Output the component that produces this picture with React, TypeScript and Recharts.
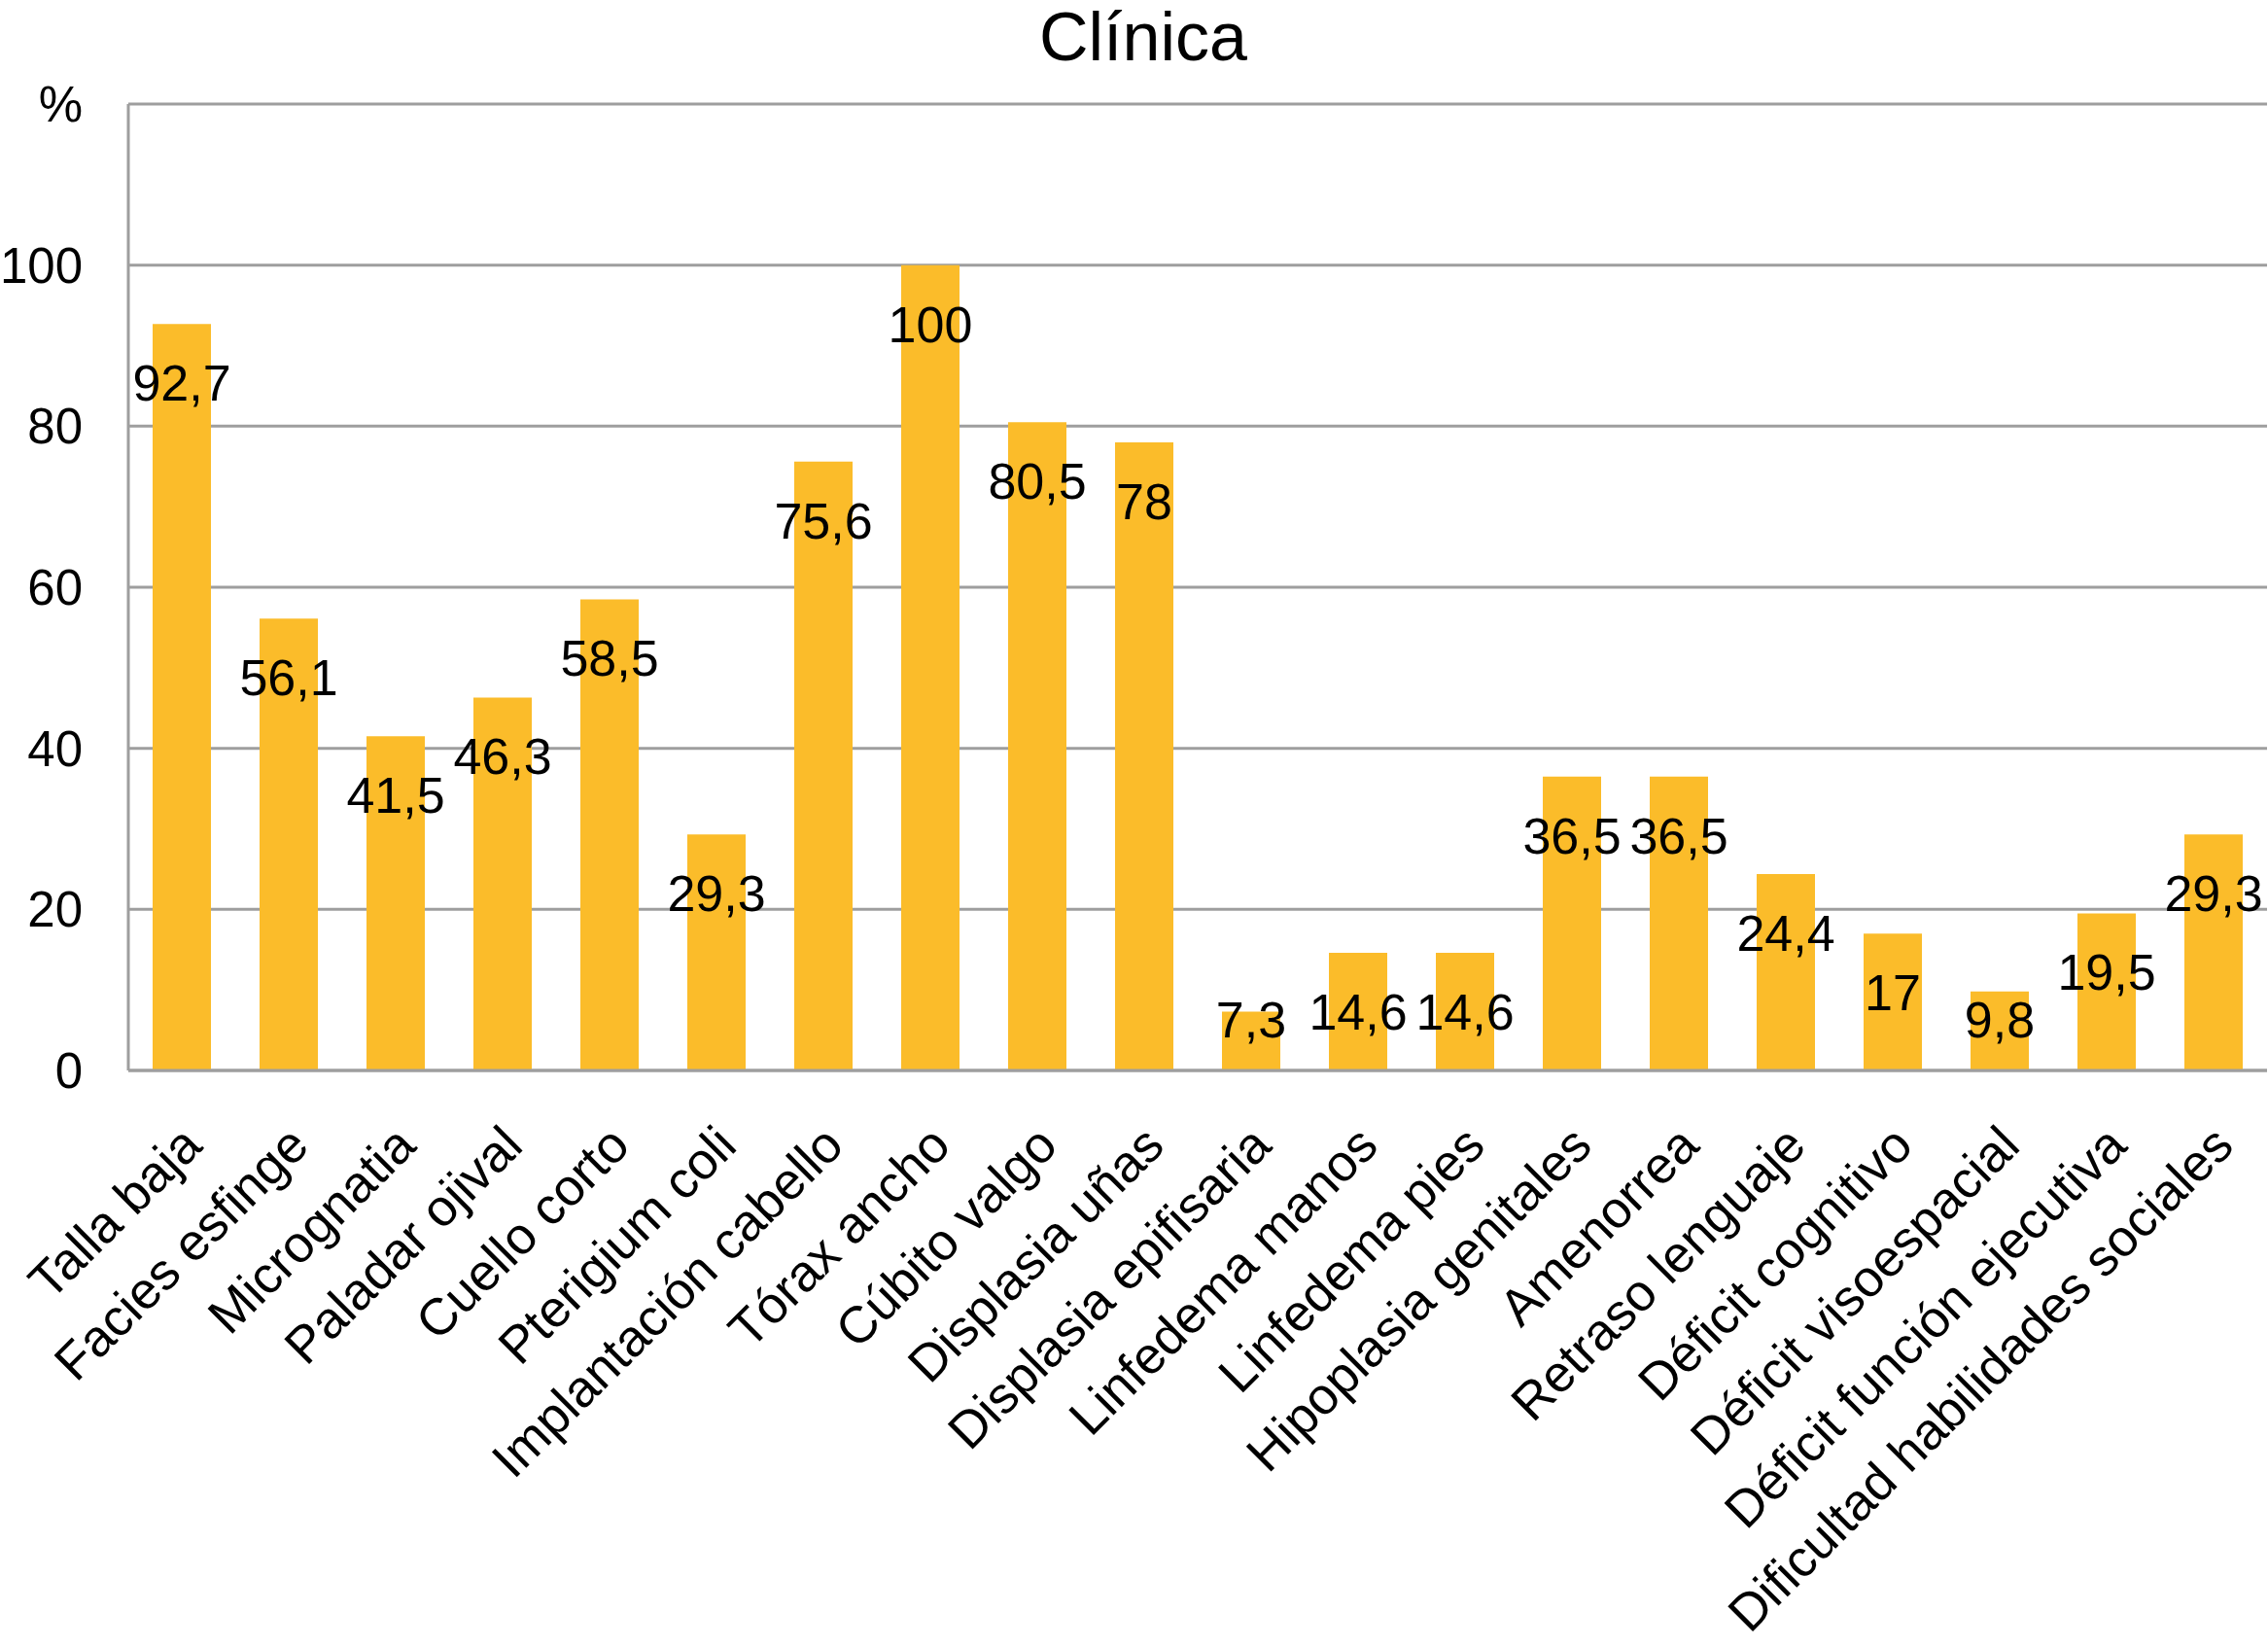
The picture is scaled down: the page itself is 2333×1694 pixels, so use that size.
import React from "react"
import {
  BarChart,
  Bar,
  XAxis,
  YAxis,
  CartesianGrid,
  LabelList,
} from "recharts"

// Clinical findings, % of patients
const categories = [
  "Talla baja",
  "Facies esfinge",
  "Micrognatia",
  "Paladar ojival",
  "Cuello corto",
  "Pterigium coli",
  "Implantación cabello",
  "Tórax ancho",
  "Cúbito valgo",
  "Displasia uñas",
  "Displasia epifisaria",
  "Linfedema manos",
  "Linfedema pies",
  "Hipoplasia genitales",
  "Amenorrea",
  "Retraso lenguaje",
  "Déficit cognitivo",
  "Déficit visoespacial",
  "Déficit función ejecutiva",
  "Dificultad habilidades sociales",
]

const values = [
  92.7, 56.1, 41.5, 46.3, 58.5, 29.3, 75.6, 100, 80.5, 78, 7.3, 14.6, 14.6,
  36.5, 36.5, 24.4, 17, 9.8, 19.5, 29.3,
]

const yTicks = [0, 20, 40, 60, 80, 100, 120]

const data = categories.map((name, i) => ({ name, value: values[i] }))

const W = 2333
const H = 1694
const FONT = "'Liberation Sans', Arial, Helvetica, sans-serif"
const BAR = "#FBBC2A"
const GRID = "#9E9E9E"
const AXIS_Y = 1101

const fmt = (v: number) => String(v).replace(".", ",")

// rotated category label, end anchored just right of the tick
function XTick(props: any) {
  const { x, y, payload } = props
  const ax = x + 23
  const ay = y + 80
  return (
    <text
      x={ax}
      y={ay}
      textAnchor="end"
      transform={`rotate(-45, ${ax}, ${ay})`}
      fontFamily={FONT}
      fontSize={53}
      fill="#000"
    >
      {payload.value}
    </text>
  )
}

// value label inside the bar, near the top (kept above the axis for short bars)
function ValueLabel(props: any) {
  const { x, y, width, value } = props
  const baseline = Math.min(y + 79, AXIS_Y - 34)
  return (
    <text
      x={x + width / 2}
      y={baseline}
      textAnchor="middle"
      fontFamily={FONT}
      fontSize={52}
      fill="#000"
    >
      {fmt(value)}
    </text>
  )
}

export default function App() {
  return (
    <div style={{ position: "absolute", left: 0, top: 0, width: W, height: H, background: "#fff" }}>
      <svg
        width={W}
        height={100}
        style={{ position: "absolute", left: 0, top: 0 }}
      >
        <text x={1176} y={62} textAnchor="middle" fontFamily={FONT} fontSize={70} fill="#000">
          Clínica
        </text>
      </svg>
      <BarChart
        width={W}
        height={H}
        data={data}
        margin={{ top: 107, right: 1, left: 0, bottom: 0 }}
        barSize={60}
      >
        <CartesianGrid vertical={false} stroke={GRID} strokeWidth={3} />
        <XAxis
          dataKey="name"
          interval={0}
          height={H - AXIS_Y}
          tickLine={false}
          tickSize={0}
          tickMargin={0}
          axisLine={{ stroke: GRID, strokeWidth: 3 }}
          tick={<XTick />}
        />
        <YAxis
          type="number"
          domain={[0, 120]}
          ticks={yTicks}
          width={132}
          tickLine={false}
          tickSize={0}
          tickMargin={47}
          axisLine={{ stroke: GRID, strokeWidth: 3 }}
          tick={{ fontFamily: FONT, fontSize: 51, fill: "#000" }}
          tickFormatter={(v: number) => (v === 120 ? "%" : String(v))}
        />
        <Bar dataKey="value" fill={BAR} isAnimationActive={false}>
          <LabelList dataKey="value" content={<ValueLabel />} />
        </Bar>
      </BarChart>
    </div>
  )
}
